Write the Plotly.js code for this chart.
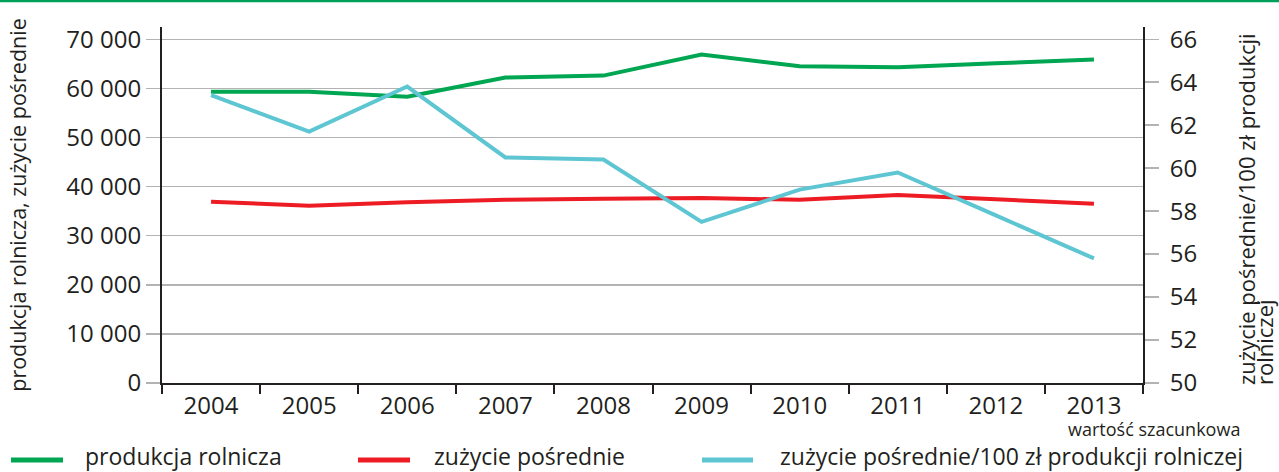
<!DOCTYPE html>
<html>
<head>
<meta charset="utf-8">
<script src="https://cdn.plot.ly/plotly-3.0.1.min.js"></script>
<style>
html,body{margin:0;padding:0;background:#fff;}
#chart{width:1279px;height:472px;}
</style>
</head>
<body>
<div id="chart"></div>
<script>
// ---- data ----
const years = ['2004','2005','2006','2007','2008','2009','2010','2011','2012','2013'];
const produkcjaRolnicza = [59300, 59300, 58300, 62200, 62600, 66900, 64500, 64300, 65100, 65900];
const zuzyciePosrednie = [36900, 36100, 36800, 37300, 37500, 37700, 37300, 38300, 37400, 36500];
const zuzycieNa100zl = [63.4, 61.7, 63.8, 60.5, 60.4, 57.5, 59.0, 59.8, 57.8, 55.8];
const seriesNames = ['produkcja rolnicza', 'zużycie pośrednie', 'zużycie pośrednie/100 zł produkcji rolniczej'];
const leftTicks = [0, 10000, 20000, 30000, 40000, 50000, 60000, 70000];
const leftTickText = ['0', '10 000', '20 000', '30 000', '40 000', '50 000', '60 000', '70 000'];
const rightTicks = [50, 52, 54, 56, 58, 60, 62, 64, 66];
const leftTitle = 'produkcja rolnicza, zużycie pośrednie';
const rightTitleLines = ['zużycie pośrednie/100 zł produkcji', 'rolniczej'];
const note = 'wartość szacunkowa';

// ---- styling ----
const GREEN = '#00a651', RED = '#ed1c24', CYAN = '#5ec6d2';
const colors = [GREEN, RED, CYAN];
const FONT = 'Open Sans, sans-serif';
const TXT = '#231f20';
const W = 1279, H = 472, ML = 162, MR = 136, MT = 27, MB = 89;
const PW = W - ML - MR, PH = H - MT - MB;
const px = x => (x - ML) / PW;        // pixel -> paper x
const py = y => (H - MB - y) / PH;    // pixel -> paper y

const traces = [
  {x: years, y: produkcjaRolnicza, name: seriesNames[0], type: 'scatter', mode: 'lines',
   line: {color: colors[0], width: 4}, yaxis: 'y', showlegend: false},
  {x: years, y: zuzyciePosrednie, name: seriesNames[1], type: 'scatter', mode: 'lines',
   line: {color: colors[1], width: 4}, yaxis: 'y', showlegend: false},
  {x: years, y: zuzycieNa100zl, name: seriesNames[2], type: 'scatter', mode: 'lines',
   line: {color: colors[2], width: 4}, yaxis: 'y2', showlegend: false}
];

// legend drawn manually
const legendSamples = [[11, 63, 83], [358, 410, 432], [702, 753, 778]];
const legY = 460;
const shapes = [
  {type: 'line', xref: 'paper', yref: 'paper', x0: px(0), x1: px(W), y0: py(1), y1: py(1),
   line: {color: '#00a05a', width: 2.5}}
];
const annotations = [];
legendSamples.forEach((s, i) => {
  shapes.push({type: 'line', xref: 'paper', yref: 'paper', x0: px(s[0]), x1: px(s[1]),
    y0: py(legY), y1: py(legY), line: {color: colors[i], width: 5}});
  annotations.push({xref: 'paper', yref: 'paper', x: px(s[2]), y: py(legY - 4), xanchor: 'left',
    yanchor: 'middle', text: seriesNames[i], showarrow: false, font: {family: FONT, size: 23, color: TXT}});
});
annotations.push({xref: 'paper', yref: 'paper', x: px(1066), y: py(429), xanchor: 'left', yanchor: 'middle',
  text: note, showarrow: false, font: {family: FONT, size: 18, color: TXT}});
[[1246, rightTitleLines[0]], [1264, rightTitleLines[1]]].forEach(l => {
  annotations.push({xref: 'paper', yref: 'paper', x: px(l[0]), y: py(387), xanchor: 'center', yanchor: 'bottom',
    text: l[1], textangle: -90, showarrow: false,
    font: {family: FONT, size: 22, color: TXT}});
});

const layout = {
  width: W, height: H,
  margin: {l: ML, r: MR, t: MT, b: MB, pad: 0},
  paper_bgcolor: '#fff', plot_bgcolor: '#fff',
  font: {family: FONT, color: TXT, size: 24},
  xaxis: {
    type: 'category', range: [-0.5, 9.5],
    showline: true, linecolor: TXT, linewidth: 2,
    ticks: 'outside', tickson: 'boundaries', ticklen: 9, tickwidth: 2, tickcolor: TXT,
    showgrid: false, zeroline: false,
    tickfont: {family: FONT, size: 24, color: TXT}
  },
  yaxis: {
    range: [0, 72500], tickvals: leftTicks, ticktext: leftTickText,
    showline: true, linecolor: TXT, linewidth: 2,
    ticks: 'outside', ticklen: 14, tickwidth: 1.5, tickcolor: '#b3b3b3',
    showgrid: true, gridcolor: '#b3b3b3', gridwidth: 1.5, zeroline: false,
    tickfont: {family: FONT, size: 24, color: TXT},
    title: {text: leftTitle, font: {family: FONT, size: 21.5, color: TXT}, standoff: 34}
  },
  yaxis2: {
    overlaying: 'y', side: 'right',
    range: [50, 66.57], tickvals: rightTicks,
    showline: true, linecolor: TXT, linewidth: 2,
    ticks: 'outside', ticklen: 14, tickwidth: 1.5, tickcolor: '#b3b3b3',
    ticklabelstandoff: 6,
    showgrid: false, zeroline: false,
    tickfont: {family: FONT, size: 24, color: TXT}
  },
  shapes: shapes,
  annotations: annotations
};

Plotly.newPlot('chart', traces, layout, {displayModeBar: false, staticPlot: true});
</script>
</body>
</html>
